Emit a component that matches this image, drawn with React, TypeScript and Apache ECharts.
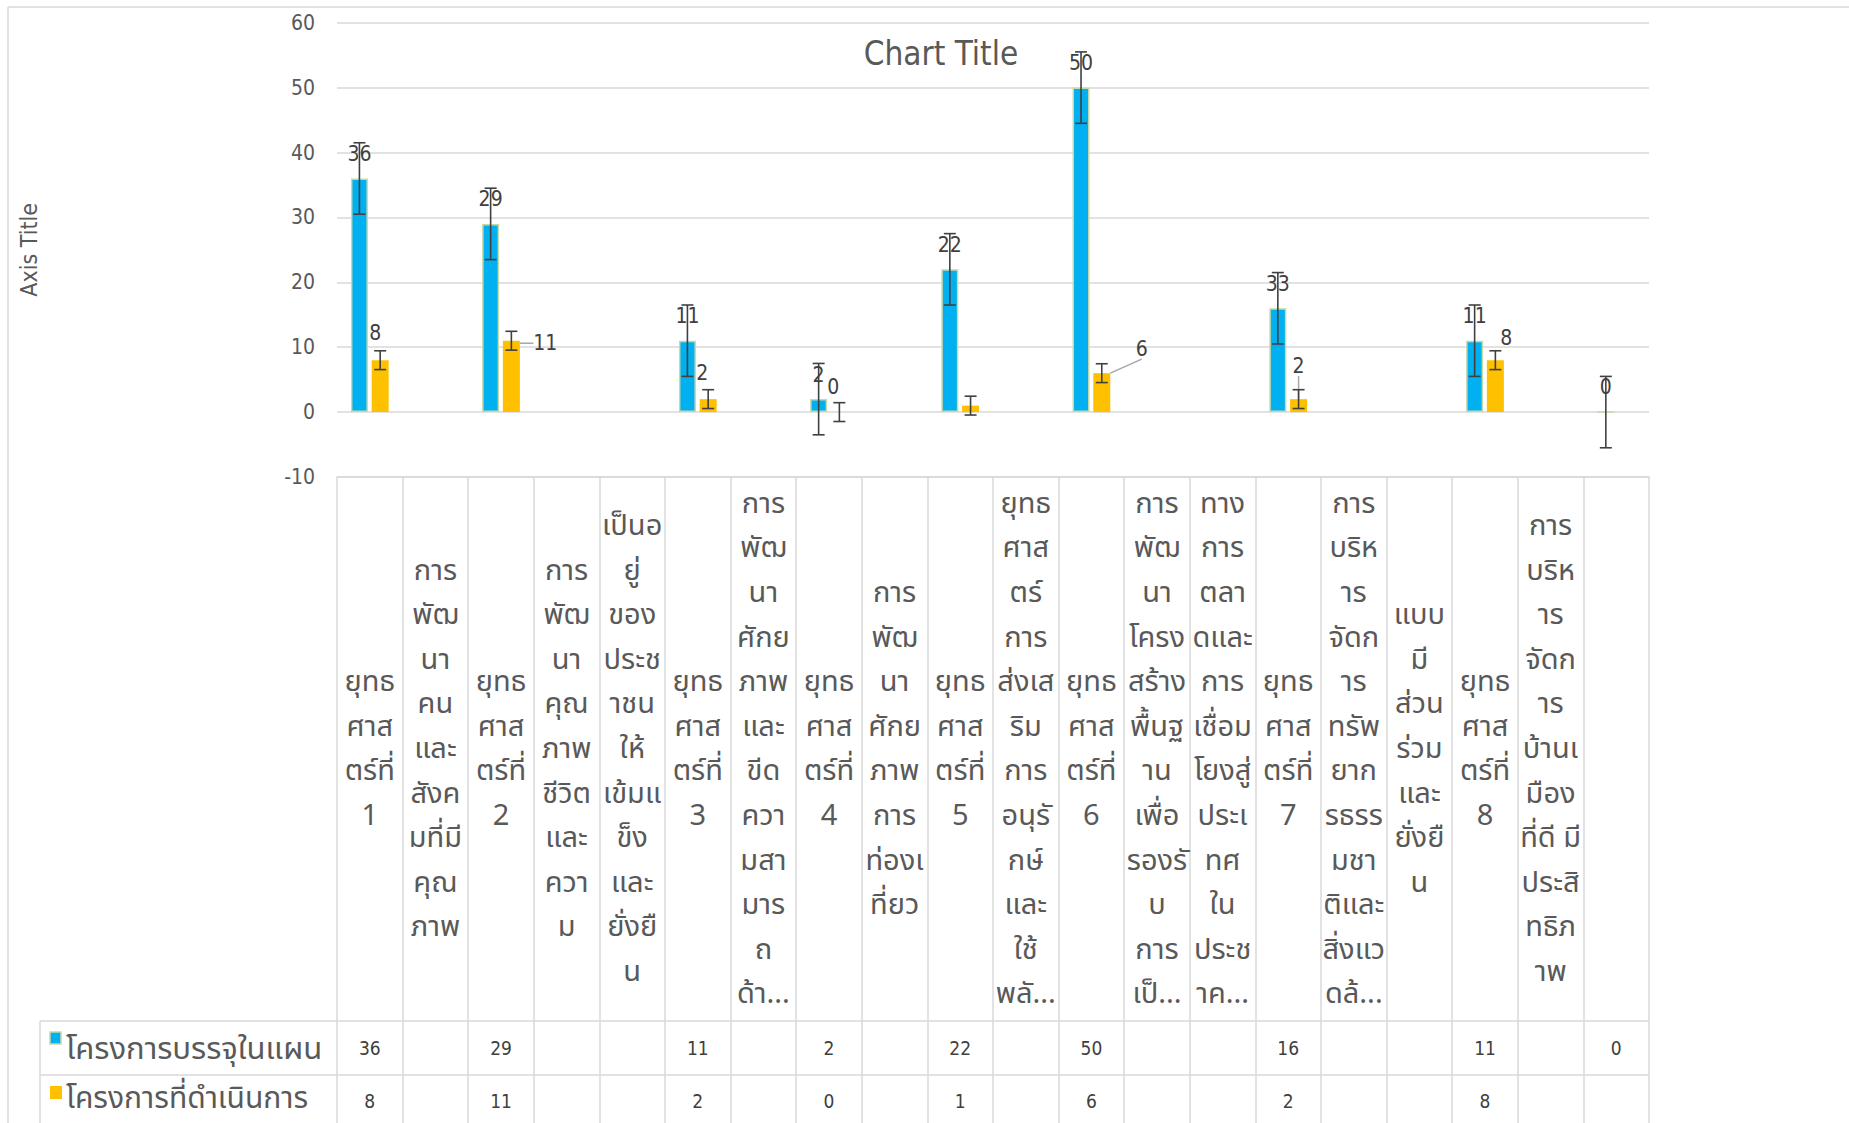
import React, { useEffect, useRef } from "react";
import * as echarts from "echarts";

// ---------- data ----------
const categoryLines: string[][] = [
  ["ยุทธ", "ศาส", "ตร์ที่", "1"],
  ["การ", "พัฒ", "นา", "คน", "และ", "สังค", "มที่มี", "คุณ", "ภาพ"],
  ["ยุทธ", "ศาส", "ตร์ที่", "2"],
  ["การ", "พัฒ", "นา", "คุณ", "ภาพ", "ชีวิต", "และ", "ควา", "ม"],
  ["เป็นอ", "ยู่", "ของ", "ประช", "าชน", "ให้", "เข้มแ", "ข็ง", "และ", "ยั่งยื", "น"],
  ["ยุทธ", "ศาส", "ตร์ที่", "3"],
  ["การ", "พัฒ", "นา", "ศักย", "ภาพ", "และ", "ขีด", "ควา", "มสา", "มาร", "ถ", "ด้า..."],
  ["ยุทธ", "ศาส", "ตร์ที่", "4"],
  ["การ", "พัฒ", "นา", "ศักย", "ภาพ", "การ", "ท่องเ", "ที่ยว"],
  ["ยุทธ", "ศาส", "ตร์ที่", "5"],
  ["ยุทธ", "ศาส", "ตร์", "การ", "ส่งเส", "ริม", "การ", "อนุรั", "กษ์", "และ", "ใช้", "พลั..."],
  ["ยุทธ", "ศาส", "ตร์ที่", "6"],
  ["การ", "พัฒ", "นา", "โครง", "สร้าง", "พื้นฐ", "าน", "เพื่อ", "รองรั", "บ", "การ", "เป็..."],
  ["ทาง", "การ", "ตลา", "ดและ", "การ", "เชื่อม", "โยงสู่", "ประเ", "ทศ", "ใน", "ประช", "าค..."],
  ["ยุทธ", "ศาส", "ตร์ที่", "7"],
  ["การ", "บริห", "าร", "จัดก", "าร", "ทรัพ", "ยาก", "รธรร", "มชา", "ติและ", "สิ่งแว", "ดล้..."],
  ["แบบ", "มี", "ส่วน", "ร่วม", "และ", "ยั่งยื", "น"],
  ["ยุทธ", "ศาส", "ตร์ที่", "8"],
  ["การ", "บริห", "าร", "จัดก", "าร", "บ้านเ", "มือง", "ที่ดี มี", "ประสิ", "ทธิภ", "าพ"],
  [""],
];

const seriesNames = ["โครงการบรรจุในแผน", "โครงการที่ดำเนินการ"];

const plannedValues: (number | null)[] = [
  36, null, 29, null, null, 11, null, 2, null, 22, null, 50, null, null, 16, null, null, 11, null, 0,
];
const doneValues: (number | null)[] = [
  8, null, 11, null, null, 2, null, 0, null, 1, null, 6, null, null, 2, null, null, 8, null, null,
];

// data labels as shown on the chart
const plannedLabels = [
  "36", "", "29", "", "", "11", "", "2", "", "22", "", "50", "", "", "33", "", "", "11", "", "0",
];
const doneLabels = [
  "8", "", "11", "", "", "2", "", "0", "", "", "", "6", "", "", "2", "", "", "8", "", "",
];

const plannedError = 5.5;
const doneError = 1.45;

const yMin = -10;
const yMax = 60;
const yInterval = 10;

// ---------- styling ----------
const BLUE = "#00B0F0";
const YELLOW = "#FFC000";
const TEXT = "#595959";
const GRID = "#d9d9d9";
const NUM_FONT = "'Liberation Sans Narrow', 'DejaVu Sans Condensed', 'Open Sans', sans-serif";
const THAI_FONT = "'Noto Sans Thai', 'Leelawadee UI', Tahoma, sans-serif";

const W = 1849;
const H = 1123;
const GRID_LEFT = 337;
const GRID_RIGHT = 1649;
const GRID_TOP = 22.7;
const GRID_BOTTOM_Y = 477;
const ROW1_Y = 1021;
const ROW2_Y = 1075;
const TABLE_LEFT = 40;

const BAR_W = 17;
const BAR_GAP = 0.22; // fraction of bar width
const BAR_OFFSET = (BAR_W * (1 + BAR_GAP)) / 2;

// label nudges (px) for the second series
const doneLabelNudge: Record<number, [number, number]> = {
  0: [-5, -3],
  2: [34, 27],
  5: [-6, -2],
  7: [-6, -1],
  11: [40, 0],
  14: [0, -9],
  17: [11, 2],
};
const doneLabelLine = new Set([2, 11, 14]);

function errorSeries(values: (number | null)[], err: number, offset: number) {
  const data: number[][] = [];
  values.forEach((v, i) => {
    if (v !== null) data.push([i, v, err]);
  });
  return {
    type: "custom",
    xAxisIndex: 0,
    yAxisIndex: 0,
    z: 5,
    silent: true,
    encode: { x: 0, y: 1 },
    data,
    renderItem: (_params: any, api: any) => {
      const i = api.value(0);
      const v = api.value(1);
      const e = api.value(2);
      const x = api.coord([i, v])[0] + offset;
      const yHi = api.coord([i, v + e])[1];
      const yLo = api.coord([i, v - e])[1];
      const cap = 6;
      const style = { stroke: "#404040", lineWidth: 1.6 };
      return {
        type: "group",
        children: [
          { type: "line", shape: { x1: x, y1: yHi, x2: x, y2: yLo }, style },
          { type: "line", shape: { x1: x - cap, y1: yHi, x2: x + cap, y2: yHi }, style },
          { type: "line", shape: { x1: x - cap, y1: yLo, x2: x + cap, y2: yLo }, style },
        ],
      };
    },
  };
}

const fmt = (v: number | null) => (v === null ? "" : String(v));

export default function App() {
  const ref = useRef<HTMLDivElement>(null);

  useEffect(() => {
    if (!ref.current) return;
    const chart = echarts.init(ref.current, undefined, { renderer: "svg" });

    const categories = categoryLines.map((l) => l.join("\n"));

    const option: any = {
      animation: false,
      backgroundColor: "#ffffff",
      title: {
        text: "Chart Title",
        left: 936,
        top: 32,
        textAlign: "center",
        textStyle: { fontSize: 33, fontWeight: "normal", color: TEXT, fontFamily: NUM_FONT },
      },
      grid: {
        left: GRID_LEFT,
        right: W - GRID_RIGHT,
        top: GRID_TOP,
        bottom: H - GRID_BOTTOM_Y,
        containLabel: false,
      },
      yAxis: {
        type: "value",
        min: yMin,
        max: yMax,
        interval: yInterval,
        name: "Axis Title",
        nameLocation: "middle",
        nameRotate: 90,
        nameGap: 297,
        nameTextStyle: { fontSize: 23, color: TEXT, fontFamily: NUM_FONT },
        axisLine: { show: false },
        axisTick: { show: false },
        axisLabel: { fontSize: 21, color: TEXT, margin: 22, fontFamily: NUM_FONT },
        splitLine: { lineStyle: { color: GRID, width: 1.5 } },
      },
      xAxis: [
        {
          type: "category",
          data: categories,
          position: "bottom",
          axisLine: { onZero: false, lineStyle: { color: GRID, width: 1.5 } },
          axisTick: {
            show: true,
            length: H - GRID_BOTTOM_Y,
            lineStyle: { color: GRID, width: 1.5 },
          },
          axisLabel: {
            interval: 0,
            margin: (ROW1_Y - GRID_BOTTOM_Y) / 2,
            verticalAlign: "middle",
            align: "center",
            fontSize: 29,
            lineHeight: 44.6,
            color: TEXT,
            fontFamily: THAI_FONT,
          },
        },
        {
          type: "category",
          data: plannedValues.map(fmt),
          position: "bottom",
          offset: (ROW1_Y + ROW2_Y) / 2 - GRID_BOTTOM_Y,
          axisLine: { show: false },
          axisTick: { show: false },
          axisLabel: {
            interval: 0,
            margin: 0,
            verticalAlign: "middle",
            fontSize: 19,
            color: "#404040",
            fontFamily: NUM_FONT,
          },
        },
        {
          type: "category",
          data: doneValues.map(fmt),
          position: "bottom",
          offset: ROW2_Y + 26 - GRID_BOTTOM_Y,
          axisLine: { show: false },
          axisTick: { show: false },
          axisLabel: {
            interval: 0,
            margin: 0,
            verticalAlign: "middle",
            fontSize: 19,
            color: "#404040",
            fontFamily: NUM_FONT,
          },
        },
      ],
      series: [
        {
          name: seriesNames[0],
          type: "bar",
          xAxisIndex: 0,
          yAxisIndex: 0,
          barWidth: BAR_W,
          barGap: `${BAR_GAP * 100}%`,
          data: plannedValues,
          itemStyle: { color: BLUE, borderColor: "#c5d9a9", borderWidth: 1.5 },
          label: {
            show: true,
            position: "top",
            distance: 14,
            fontSize: 21,
            color: "#404040",
            fontFamily: NUM_FONT,
            formatter: (p: any) => plannedLabels[p.dataIndex],
          },
          z: 2,
        },
        {
          name: seriesNames[1],
          type: "bar",
          xAxisIndex: 0,
          yAxisIndex: 0,
          barWidth: BAR_W,
          barGap: `${BAR_GAP * 100}%`,
          data: doneValues.map((v, i) =>
            v === null
              ? null
              : doneLabelLine.has(i)
              ? { value: v, labelLine: { show: true } }
              : { value: v }
          ),
          itemStyle: { color: YELLOW },
          label: {
            show: true,
            position: "top",
            distance: 14,
            fontSize: 21,
            color: "#404040",
            fontFamily: NUM_FONT,
            formatter: (p: any) => doneLabels[p.dataIndex],
          },
          labelLine: { show: false, lineStyle: { color: "#a6a6a6", width: 1.5 } },
          labelLayout: (p: any) => {
            const n = doneLabelNudge[p.dataIndex];
            return n ? { dx: n[0], dy: n[1] } : {};
          },
          z: 2,
        },
        errorSeries(plannedValues, plannedError, -BAR_OFFSET),
        errorSeries(doneValues, doneError, BAR_OFFSET),
      ],
      graphic: [
        // outer chart border
        { type: "line", shape: { x1: 8, y1: 7, x2: W, y2: 7 }, style: { stroke: GRID, lineWidth: 1.5 } },
        { type: "line", shape: { x1: 8, y1: 7, x2: 8, y2: H }, style: { stroke: GRID, lineWidth: 1.5 } },
        // data table row lines
        { type: "line", shape: { x1: TABLE_LEFT, y1: ROW1_Y, x2: GRID_RIGHT, y2: ROW1_Y }, style: { stroke: GRID, lineWidth: 1.5 } },
        { type: "line", shape: { x1: TABLE_LEFT, y1: ROW2_Y, x2: GRID_RIGHT, y2: ROW2_Y }, style: { stroke: GRID, lineWidth: 1.5 } },
        { type: "line", shape: { x1: TABLE_LEFT, y1: ROW1_Y, x2: TABLE_LEFT, y2: H }, style: { stroke: GRID, lineWidth: 1.5 } },
        // legend keys
        { type: "rect", shape: { x: 50, y: 1032, width: 11, height: 12 }, style: { fill: BLUE, stroke: "#c5d9a9", lineWidth: 1.5 } },
        { type: "rect", shape: { x: 50, y: 1086, width: 12, height: 13 }, style: { fill: YELLOW } },
        {
          type: "text",
          x: 66,
          y: (ROW1_Y + ROW2_Y) / 2 + 1,
          style: { text: seriesNames[0], fontSize: 31, fill: TEXT, fontFamily: THAI_FONT, verticalAlign: "middle", align: "left" },
        },
        {
          type: "text",
          x: 66,
          y: ROW2_Y + 24,
          style: { text: seriesNames[1], fontSize: 30, fill: TEXT, fontFamily: THAI_FONT, verticalAlign: "middle", align: "left" },
        },
      ],
    };

    chart.setOption(option);
    return () => chart.dispose();
  }, []);

  return (
    <div
      ref={ref}
      style={{ position: "fixed", left: 0, top: 0, width: W, height: H, background: "#fff" }}
    />
  );
}
